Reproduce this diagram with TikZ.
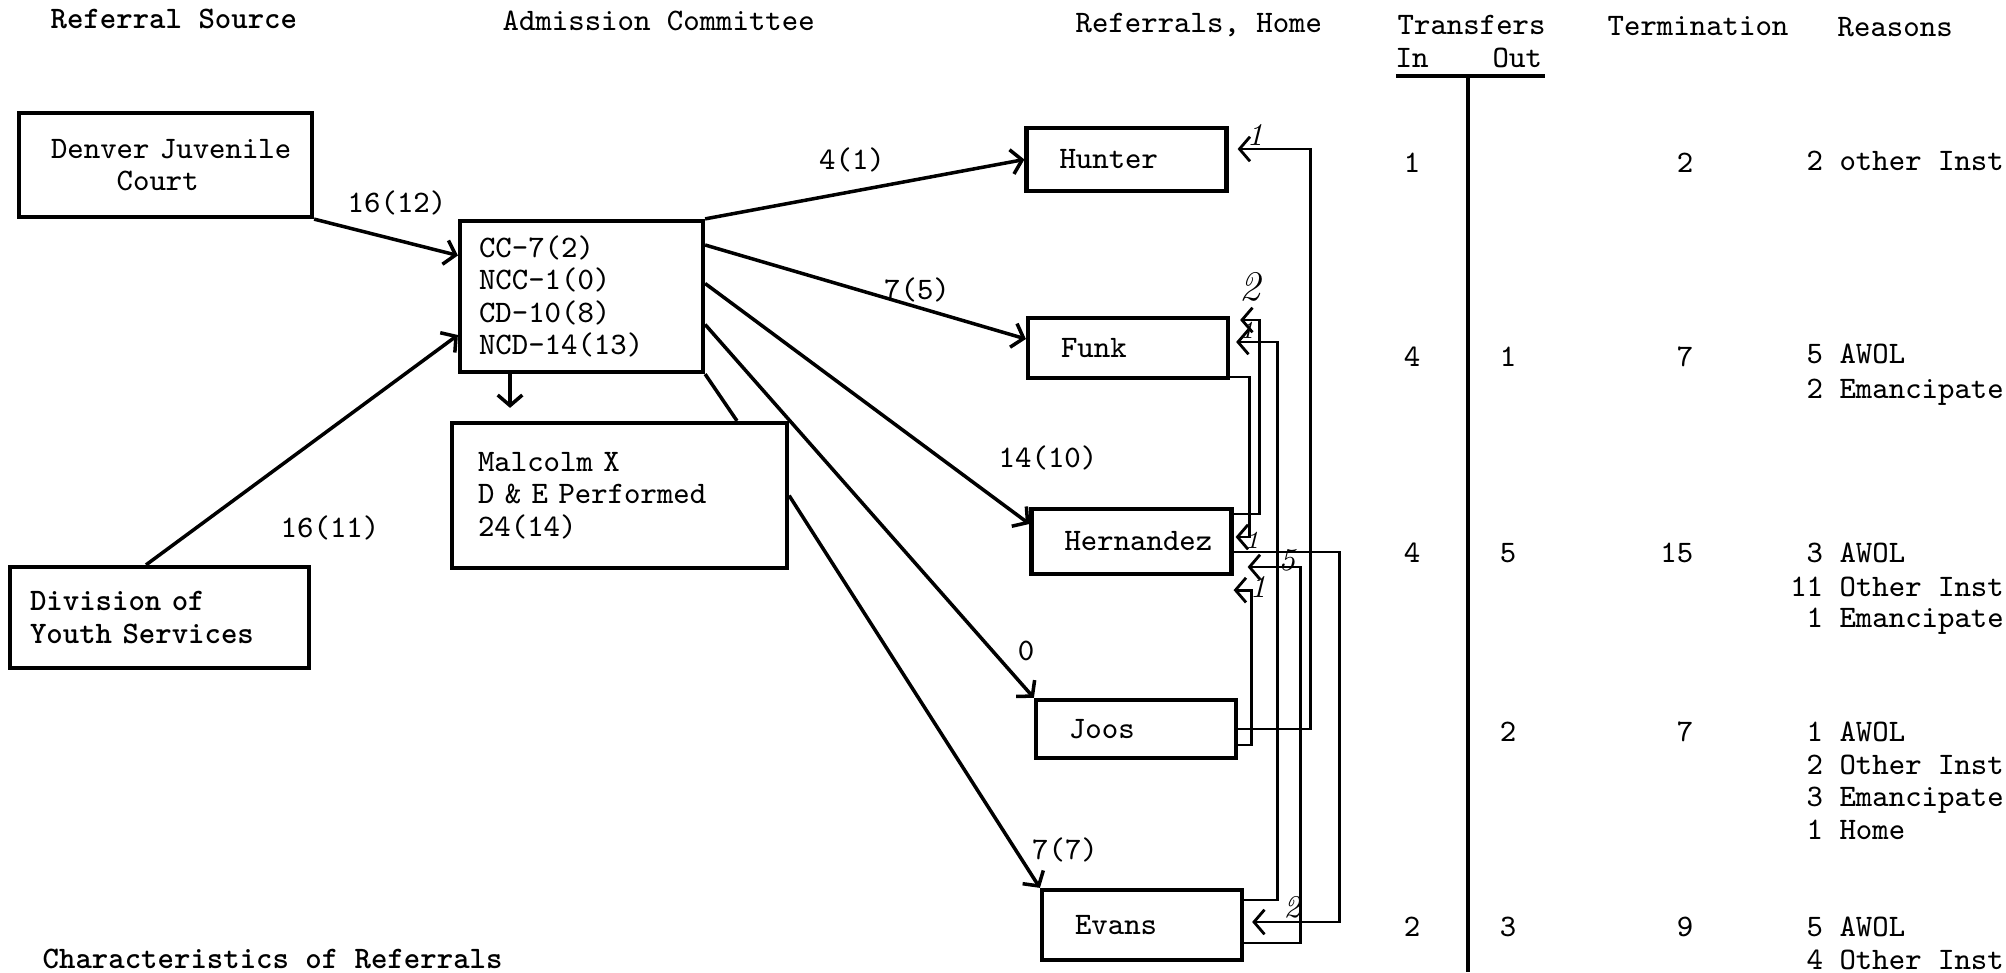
\documentclass[tikz,border=0pt]{standalone}
\usepackage{fontspec}
\usetikzlibrary{arrows.meta}

\newcommand{\typefont}{\ttfamily\fontsize{8.9}{9.25}\selectfont}

\tikzset{
	box/.style={draw, line width=1.2pt, align=left, inner ysep=0pt},
	homebox/.style={box, text width=1.34cm, inner xsep=0.33cm},
	link/.style={->, line width=1pt},
	wire/.style={->, line width=0.8pt},
	hand/.style={font=\rmfamily\itshape\small, inner sep=0pt},
	head/.style={anchor=base west, inner sep=0pt},
	cell/.style={anchor=base, inner sep=0pt},
	reason/.style={anchor=base west, inner sep=0pt},
}

\begin{document}
\begin{tikzpicture}[>={Straight Barb[length=3pt,width=7pt]}, font=\typefont]
	\useasboundingbox (0,0) rectangle (20.06,9.72);
	% column heads
	\node[head, font=\typefont\bfseries] (hSrc) at (0.50,9.43) {Referral Source};
	\node[head] (hAdm) at (5.02,9.41) {Admission Committee};
	\node[head] (hHome) at (10.75,9.39) {Referrals, Home};
	\node[head] (hTr) at (13.97,9.37) {Transfers};
	\node[head] (hIn) at (13.95,9.04) {In};
	\node[head] (hOut) at (14.92,9.04) {Out};
	\node[head] (hTerm) at (16.07,9.36) {Termination};
	\node[head] (hRea) at (18.37,9.35) {Reasons};
	\draw[line width=0.9pt] (13.96,8.96) -- (15.45,8.96);
	\draw[line width=0.9pt] (14.68,8.96) -- (14.68,0);

	% referral sources and committee
	\node[box, text width=2.29cm, inner xsep=0.32cm, minimum height=1.04cm] (den) at (1.655,8.07) {\mbox{Denver Juvenile}\\\hphantom{Denv}Court};
	\node[box, font=\typefont\bfseries, text width=2.59cm, inner xsep=0.2cm, minimum height=1.01cm] (dys) at (1.595,3.545) {Division of\\Youth Services};
	\node[box, text width=2.05cm, inner xsep=0.19cm, minimum height=1.51cm] (adm) at (5.815,6.755) {CC-7(2)\\NCC-1(0)\\CD-10(8)\\NCD-14(13)};
	\node[box, text width=2.83cm, inner xsep=0.26cm, minimum height=1.45cm] (mal) at (6.195,4.765) {Malcolm X\\D \& E Performed\\24(14)};
	\draw[link] (den.south east) -- ([yshift=0.41cm]adm.west);
	\draw[link] ([xshift=-0.135cm]dys.north) -- ([yshift=-0.385cm]adm.west);
	\draw[link, shorten >=0.13cm] ([xshift=-0.715cm]adm.south) -- ([xshift=-1.095cm]mal.north);
	\draw[line width=1pt] (adm.south east) -- ([xshift=1.175cm]mal.north);
	\node (lDen) at (3.97,7.69) {16(12)};
	\node (lDys) at (3.30,4.44) {16(11)};

	% homes
	\node[homebox, minimum height=0.63cm] (hunter) at (11.265,8.125) {Hunter};
	\node[homebox, minimum height=0.60cm] (funk) at (11.28,6.24) {Funk};
	\node[homebox, minimum height=0.65cm] (hern) at (11.315,4.305) {Hernandez};
	\node[homebox, minimum height=0.58cm] (joos) at (11.36,2.43) {Joos};
	\node[homebox, minimum height=0.70cm] (evans) at (11.42,0.47) {Evans};
	\draw[link] (adm.north east) -- (hunter.west);
	\draw[link] ([yshift=0.515cm]adm.east) -- ([yshift=0.09cm]funk.west);
	\draw[link] ([yshift=0.13cm]adm.east) -- ([yshift=0.175cm]hern.west);
	\draw[link] ([yshift=-0.28cm]adm.east) -- (joos.north west);
	\draw[link] (mal.east) -- (evans.north west);
	\node (lHun) at (8.52,8.12) {4(1)};
	\node (lFun) at (9.17,6.82) {7(5)};
	\node (lHer) at (10.48,5.14) {14(10)};
	\node (lJoo) at (10.26,3.21) {0};
	\node (lEva) at (10.65,1.22) {7(7)};

	% transfers between homes
	\draw[wire, shorten >=0.09cm] (joos.east) -- ++(0.72,0) |- ([yshift=0.105cm]hunter.east);
	\draw[wire, shorten >=0.1cm] ([yshift=0.275cm]hern.east) -- ++(0.26,0) |- ([yshift=0.28cm]funk.east);
	\draw[wire, shorten >=0.06cm] ([yshift=0.25cm]evans.east) -- ++(0.33,0) |- ([yshift=0.06cm]funk.east);
	\draw[wire, shorten >=0.02cm] ([yshift=-0.29cm]funk.east) -- ++(0.19,0) |- ([yshift=0.045cm]hern.east);
	\draw[wire, shorten >=0.08cm] ([yshift=-0.105cm]hern.east) -- ++(1.06,0) |- ([yshift=0.03cm]evans.east);
	\draw[wire, shorten >=0.14cm] ([yshift=-0.18cm]evans.east) -- ++(0.56,0) |- ([yshift=-0.255cm]hern.east);
	\draw[wire] ([yshift=-0.16cm]joos.east) -- ++(0.13,0) |- ([yshift=-0.14cm]hern.south east);
	\node[hand] (t1) at (12.55,8.37) {1};
	\node[hand, font=\rmfamily\itshape\large] (t2) at (12.50,6.85) {2};
	\node[hand, font=\rmfamily\itshape\scriptsize] (t3) at (12.47,6.42) {1};
	\node[hand, font=\rmfamily\itshape\scriptsize] (t4) at (12.52,4.32) {1};
	\node[hand] (t5) at (12.87,4.12) {5};
	\node[hand] (t6) at (12.58,3.85) {1};
	\node[hand] (t7) at (12.92,0.65) {2};

	% transfers, terminations, reasons
	\node[cell] (inHun) at (14.12,7.995) {1};
	\node[cell, anchor=base east] (tmHun) at (16.94,7.995) {2};
	\node[reason] (rsHun) at (18.06,8.01) {2 other Inst};
	\node[cell] (inFun) at (14.12,6.055) {4};
	\node[cell] (outFun) at (15.08,6.055) {1};
	\node[cell, anchor=base east] (tmFun) at (16.94,6.055) {7};
	\node[reason] (rsFun1) at (18.06,6.08) {5 AWOL};
	\node[reason] (rsFun2) at (18.06,5.74) {2 Emancipate};
	\node[cell] (inHer) at (14.12,4.095) {4};
	\node[cell] (outHer) at (15.08,4.095) {5};
	\node[cell, anchor=base east] (tmHer) at (16.94,4.095) {15};
	\node[reason] (rsHer1) at (18.06,4.095) {3 AWOL};
	\node[reason] (rsHer2) at (17.896,3.755) {11 Other Inst};
	\node[reason] (rsHer3) at (18.06,3.445) {1 Emancipate};
	\node[cell] (outJoo) at (15.08,2.305) {2};
	\node[cell, anchor=base east] (tmJoo) at (16.94,2.305) {7};
	\node[reason] (rsJoo1) at (18.06,2.305) {1 AWOL};
	\node[reason] (rsJoo2) at (18.06,1.975) {2 Other Inst};
	\node[reason] (rsJoo3) at (18.06,1.655) {3 Emancipate};
	\node[reason] (rsJoo4) at (18.06,1.325) {1 Home};
	\node[cell] (inEva) at (14.12,0.355) {2};
	\node[cell] (outEva) at (15.08,0.355) {3};
	\node[cell, anchor=base east] (tmEva) at (16.94,0.355) {9};
	\node[reason] (rsEva1) at (18.06,0.355) {5 AWOL};
	\node[reason] (rsEva2) at (18.06,0.025) {4 Other Inst};

	\node[head, font=\typefont\bfseries] (hChar) at (0.42,0.04) {Characteristics of Referrals};
\end{tikzpicture}
\end{document}
